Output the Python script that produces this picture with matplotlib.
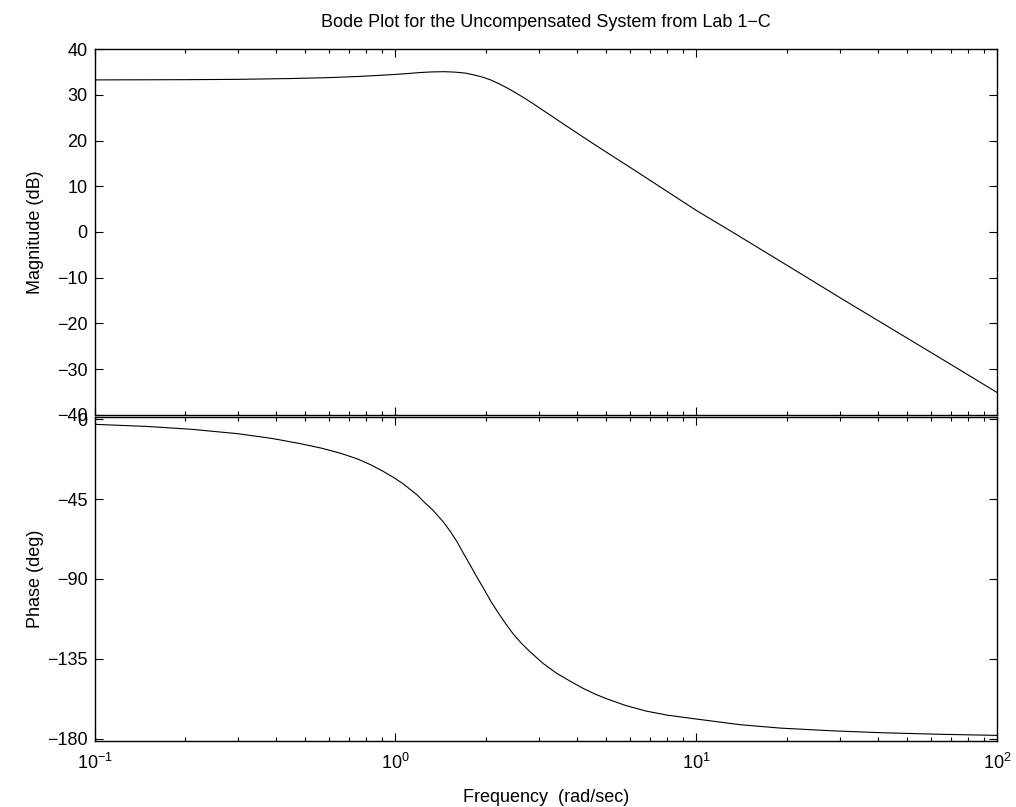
import numpy as np
import matplotlib
matplotlib.use("Agg")
import matplotlib.pyplot as plt
from matplotlib.ticker import LogLocator, FixedLocator, NullFormatter, LogFormatterSciNotation

plt.rcParams['font.family'] = ['Liberation Sans', 'DejaVu Sans']
plt.rcParams['mathtext.fontset'] = 'custom'
plt.rcParams['mathtext.rm'] = 'Liberation Sans'
plt.rcParams['mathtext.it'] = 'Liberation Sans'
plt.rcParams['mathtext.default'] = 'regular'

title = "Bode Plot for the Uncompensated System from Lab 1\u2212C"
xlabel = "Frequency  (rad/sec)"
mag_label = "Magnitude (dB)"
phase_label = "Phase (deg)"

# magnitude
mag_freq = [0.1, 0.2, 0.3, 0.45, 0.6, 0.75, 0.87, 1.0, 1.1, 1.2, 1.32, 1.45, 1.58, 1.7,
            1.82, 1.95, 2.07, 2.2, 2.35, 2.5, 2.68, 2.85, 3.2, 3.7, 4.2, 4.8, 5.5,
            6.2, 7.0, 8.0, 10.0, 13.0, 20.0, 30.0, 50.0, 70.0, 100.0]
mag_db = [33.3, 33.35, 33.42, 33.6, 33.8, 34.05, 34.27, 34.5, 34.7, 34.9, 35.05, 35.1, 35.0, 34.8,
          34.4, 33.9, 33.3, 32.5, 31.53, 30.53, 29.32, 28.2, 25.98, 23.2, 20.8, 18.3, 15.8,
          13.6, 11.34, 8.85, 4.7, 0.2, -7.3, -14.4, -23.2, -29.0, -35.2]

# phase
phase_freq = [0.1, 0.15, 0.21, 0.3, 0.39, 0.48, 0.57, 0.66, 0.75, 0.83, 0.91, 0.98, 1.06,
              1.18, 1.25, 1.33, 1.44, 1.52, 1.6, 1.68, 1.77, 1.86, 1.96, 2.08, 2.22, 2.34,
              2.46, 2.62, 2.8, 3.1, 3.43, 3.8, 4.2, 4.6, 5.0, 5.8, 6.8, 8.0, 10.0, 14.0,
              19.0, 28.0, 41.0, 65.0, 100.0]
phase_deg = [-2.9, -4.1, -5.7, -8.2, -10.9, -13.7, -16.4, -19.3, -22.5, -25.8, -29.4, -32.6, -36.4,
             -42.7, -47.0, -51.2, -57.8, -63.2, -69.0, -75.5, -82.2, -88.7, -95.3, -103.0, -110.4, -116.0,
             -121.0, -126.3, -131.1, -137.8, -143.2, -147.6, -151.7, -154.9, -157.4, -161.3, -164.5, -166.8, -169.0, -172.2,
             -174.1, -175.6, -176.7, -177.6, -178.2]

mag_ticks = [-40, -30, -20, -10, 0, 10, 20, 30, 40]
phase_ticks = [-180, -135, -90, -45, 0]

W, H = 1016, 807
fig = plt.figure(figsize=(W / 100, H / 100), dpi=100)

left = 94.5 / W
width = (997.5 - 94.5) / W
ax1 = fig.add_axes([left, 1 - 414.7 / H, width, (414.7 - 49.3) / H])
ax2 = fig.add_axes([left, 1 - 740.7 / H, width, (740.7 - 416.7) / H])

fs = 13
for ax in (ax1, ax2):
    ax.set_xscale('log')
    ax.set_xlim(0.1, 100)
    ax.xaxis.set_major_locator(LogLocator(base=10, numticks=10))
    ax.xaxis.set_minor_locator(LogLocator(base=10, subs=np.arange(2, 10), numticks=20))
    ax.xaxis.set_minor_formatter(NullFormatter())
    ax.tick_params(which='both', direction='in', top=True, right=True, labelsize=fs, width=0.8)
    ax.tick_params(which='major', length=6, pad=5)
    ax.tick_params(which='minor', length=3)
    for s in ax.spines.values():
        s.set_linewidth(1.0)

ax1.plot(mag_freq, mag_db, color='black', lw=0.8)
ax1.set_ylim(-40, 40)
ax1.yaxis.set_major_locator(FixedLocator(mag_ticks))
ax1.xaxis.set_major_formatter(NullFormatter())
ax1.set_ylabel(mag_label, fontsize=fs)
ax1.set_title(title, fontsize=fs, pad=16)

ax2.plot(phase_freq, phase_deg, color='black', lw=0.8)
ax2.set_ylim(-181.2, 1.4)
ax2.yaxis.set_major_locator(FixedLocator(phase_ticks))
ax2.xaxis.set_major_formatter(LogFormatterSciNotation())
ax2.tick_params(axis='x', which='major', pad=9)
ax2.set_ylabel(phase_label, fontsize=fs)
ax2.set_xlabel(xlabel, fontsize=fs, labelpad=11)

for ax in (ax1, ax2):
    ax.yaxis.set_label_coords(-0.0555, 0.5)

fig.savefig("out.png", dpi=100, facecolor='white')
